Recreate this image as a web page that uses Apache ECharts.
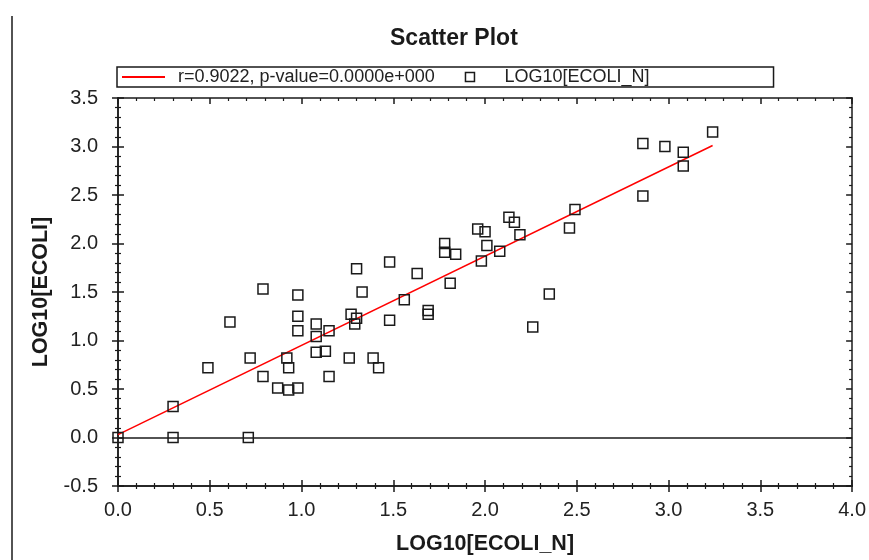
<!DOCTYPE html>
<html>
<head>
<meta charset="utf-8">
<script src="https://cdn.jsdelivr.net/npm/echarts@6/dist/echarts.min.js"></script>
<style>
  html, body { margin: 0; padding: 0; background: #fff; }
  #chart { width: 869px; height: 560px; }
</style>
</head>
<body>
<div id="chart"></div>
<script>
// observed points: LOG10[ECOLI_N] vs LOG10[ECOLI]
var xVals = [0.00, 0.30, 0.30, 0.71, 0.49, 0.61, 0.72, 0.79, 0.79, 0.87,
             0.93, 0.98, 0.92, 0.93, 0.98, 0.98, 0.98, 1.08, 1.08, 1.08,
             1.13, 1.15, 1.15, 1.27, 1.30, 1.29, 1.26, 1.33, 1.30, 1.39,
             1.42, 1.48, 1.48, 1.56, 1.63, 1.69, 1.69, 1.78, 1.78, 1.81,
             1.84, 1.96, 2.00, 1.98, 2.01, 2.08, 2.13, 2.16, 2.19, 2.26,
             2.35, 2.46, 2.49, 2.86, 2.86, 2.98, 3.08, 3.08, 3.24];
var yVals = [0.00, 0.00, 0.32, 0.00, 0.72, 1.19, 0.82, 1.53, 0.63, 0.51,
             0.49, 0.51, 0.82, 0.72, 1.47, 1.25, 1.10, 1.17, 1.04, 0.88,
             0.89, 1.10, 0.63, 1.27, 1.23, 1.17, 0.82, 1.50, 1.74, 0.82,
             0.72, 1.81, 1.21, 1.42, 1.69, 1.31, 1.27, 2.00, 1.91, 1.59,
             1.89, 2.15, 2.12, 1.82, 1.98, 1.92, 2.27, 2.22, 2.09, 1.14,
             1.48, 2.16, 2.35, 3.03, 2.49, 3.00, 2.94, 2.80, 3.15];
// regression line end points
var fitX = [0, 3.24];
var fitY = [0.03, 3.01];

var fitName = 'r=0.9022, p-value=0.0000e+000';
var pointName = 'LOG10[ECOLI_N]';

var points = [];
for (var i = 0; i < xVals.length; i++) points.push([xVals[i], yVals[i]]);
var fitLine = [];
for (var j = 0; j < fitX.length; j++) fitLine.push([fitX[j], fitY[j]]);

var font = 'Liberation Sans, Arial, sans-serif';
var ink = '#1a1a1a';

function fmt(v) { return v.toFixed(1); }

function xAx(pos, inside, labels) {
    return {
        type: 'value', min: 0, max: 4, interval: 0.5, position: pos,
        axisLine: { show: true, onZero: false, lineStyle: { color: ink, width: 1.5 } },
        axisTick: { show: true, inside: inside, length: 6, lineStyle: { color: ink, width: 1.5 } },
        minorTick: { show: true, splitNumber: 5, length: 3, lineStyle: { color: ink, width: 1.2 } },
        axisLabel: { show: labels, formatter: fmt, fontSize: 20, color: '#222', fontFamily: font, margin: 14 },
        splitLine: { show: false },
        name: labels ? 'LOG10[ECOLI_N]' : '',
        nameLocation: 'middle', nameGap: 47,
        nameTextStyle: { fontSize: 21.5, fontWeight: 'bold', color: ink, fontFamily: font }
    };
}
function yAx(pos, inside, labels) {
    return {
        type: 'value', min: -0.5, max: 3.5, interval: 0.5, position: pos,
        axisLine: { show: true, onZero: false, lineStyle: { color: ink, width: 1.5 } },
        axisTick: { show: true, inside: inside, length: 6, lineStyle: { color: ink, width: 1.5 } },
        minorTick: { show: true, splitNumber: 5, length: 3, lineStyle: { color: ink, width: 1.2 } },
        axisLabel: { show: labels, formatter: fmt, fontSize: 20, color: '#222', fontFamily: font, margin: 20 },
        splitLine: { show: false },
        name: labels ? 'LOG10[ECOLI]' : '',
        nameLocation: 'middle', nameGap: 66,
        nameTextStyle: { fontSize: 21.5, fontWeight: 'bold', color: ink, fontFamily: font }
    };
}

var myChart = echarts.init(document.getElementById('chart'));
var option = {
    backgroundColor: '#fff',
    animation: false,
    title: {
        text: 'Scatter Plot', left: 385, top: 22,
        textStyle: { fontSize: 23, fontWeight: 'bold', color: ink, fontFamily: font }
    },
    legend: {
        left: 117, top: 67,
        padding: [1, 124, 1, 5],
        borderColor: ink, borderWidth: 1.5,
        itemWidth: 43, itemHeight: 9, itemGap: 30,
        textStyle: { fontSize: 18, color: '#222', fontFamily: font, padding: [0, 0, 0, 8] },
        data: [
            { name: fitName, icon: 'path://M0,0 L43,0 L43,2 L0,2 Z', itemStyle: { color: '#ff0000' } },
            { name: pointName, icon: 'path://M0,0 L10,0 L10,10 L0,10 Z',
              itemStyle: { color: 'rgba(0,0,0,0)', borderColor: ink, borderWidth: 1.5 } }
        ]
    },
    graphic: [{
        type: 'line', shape: { x1: 12, y1: 16, x2: 12, y2: 560 },
        style: { stroke: ink, lineWidth: 1.5 }
    }],
    grid: { left: 118, right: 15, top: 98, bottom: 74 },
    xAxis: [xAx('bottom', false, true), xAx('bottom', true, false), xAx('top', true, false)],
    yAxis: [yAx('left', false, true), yAx('left', true, false), yAx('right', true, false)],
    series: [
        {
            name: fitName, type: 'line', data: fitLine,
            symbol: 'none', lineStyle: { color: '#ff0000', width: 1.5 },
            itemStyle: { color: '#ff0000' }, z: 3
        },
        {
            name: pointName, type: 'scatter', data: points,
            symbol: 'rect', symbolSize: 10,
            itemStyle: { color: 'rgba(0,0,0,0)', borderColor: ink, borderWidth: 1.5, opacity: 1 },
            markLine: {
                silent: true, symbol: 'none', label: { show: false },
                lineStyle: { color: ink, type: 'solid', width: 1.5 },
                data: [{ yAxis: 0 }]
            },
            z: 4
        }
    ]
};
myChart.setOption(option);
</script>
</body>
</html>
